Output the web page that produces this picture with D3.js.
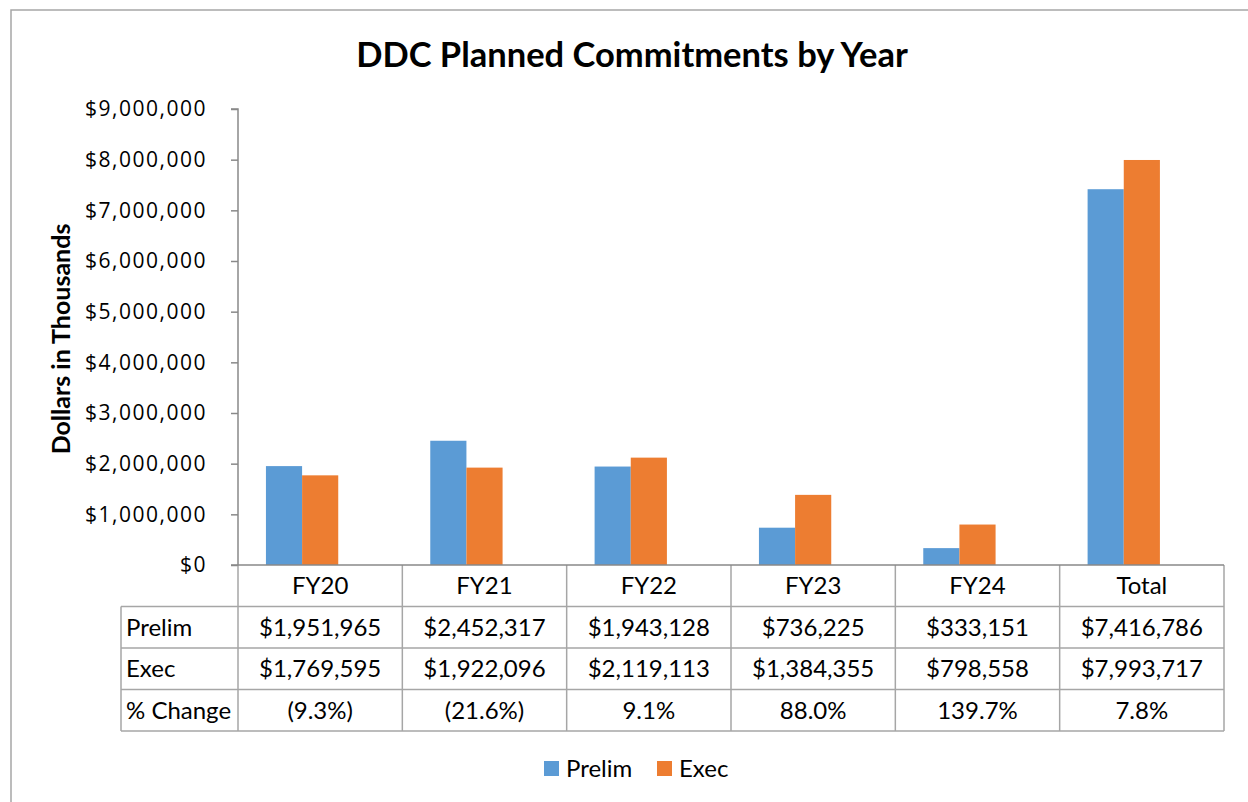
<!DOCTYPE html>
<html lang='en'>
<head>
   <meta charset='UTF-8'>
   <title>DDC Planned Commitments by Year</title>
   <script src='https://d3js.org/d3.v7.min.js'></script>
   <style>
      body { margin: 0; background: #fff; }
      svg { display: block; }
      text { font-family: Lato, 'Open Sans', sans-serif; fill: #000; }
   </style>
</head>
<body>
   <div id='chart'></div>
   <script>
      // data (dollars in thousands)
      const categories = ['FY20', 'FY21', 'FY22', 'FY23', 'FY24', 'Total'];
      const prelim = [1951965, 2452317, 1943128, 736225, 333151, 7416786];
      const exec = [1769595, 1922096, 2119113, 1384355, 798558, 7993717];
      const pctChange = [-9.3, -21.6, 9.1, 88.0, 139.7, 7.8];
      const yTicks = [0, 1000000, 2000000, 3000000, 4000000, 5000000, 6000000, 7000000, 8000000, 9000000];
      const seriesNames = ['Prelim', 'Exec'];
      const colours = ['#5b9bd5', '#ed7d31'];

      const W = 1248, H = 802;
      const plot = { left: 238, right: 1224, top: 109, bottom: 565 };
      const rowH = 41.5;

      const svg = d3.select('#chart').append('svg').attr('width', W).attr('height', H);

      // chart frame
      svg.append('rect').attr('x', 11).attr('y', 10).attr('width', W + 10).attr('height', H + 10)
         .attr('fill', '#fff').attr('stroke', '#a6a6a6').attr('stroke-width', 1.5);

      svg.append('text').attr('x', 632).attr('y', 67).attr('text-anchor', 'middle')
         .style('font-size', '34.5px').style('font-weight', 'bold')
         .text('DDC Planned Commitments by Year');

      const x = d3.scaleBand().domain(categories).range([plot.left, plot.right]).padding(0);
      const y = d3.scaleLinear().domain([0, 9000000]).range([plot.bottom, plot.top]);

      // y axis
      const yAxis = svg.append('g').attr('transform', `translate(${plot.left},0)`)
         .call(d3.axisLeft(y).tickValues(yTicks).tickSize(7).tickPadding(24).tickFormat(d3.format('$,')));
      yAxis.select('.domain').attr('stroke', '#898989').attr('stroke-width', 1.5).attr('d', `M-7,${plot.top}H0V${plot.bottom}`);
      yAxis.selectAll('.tick line').attr('stroke', '#898989').attr('stroke-width', 1.5);
      yAxis.selectAll('.tick text').style('font-family', "'Open Sans', sans-serif").style('font-size', '21px')
         .style('letter-spacing', '1.5px').attr('fill', '#000');

      svg.append('text').attr('transform', `translate(70,${(plot.top + plot.bottom) / 2 + 2}) rotate(-90)`)
         .attr('text-anchor', 'middle').style('font-size', '25px').style('font-weight', 'bold')
         .text('Dollars in Thousands');

      // bars
      const bw = x.bandwidth();
      const barW = bw * 0.22, barOff = bw * 0.17;
      [prelim, exec].forEach((vals, s) => {
         svg.append('g').selectAll('rect').data(vals).join('rect')
            .attr('x', (d, i) => x(categories[i]) + barOff + s * barW)
            .attr('y', d => y(d))
            .attr('width', barW)
            .attr('height', d => y(0) - y(d))
            .attr('fill', colours[s]);
      });

      // data table
      const fmtMoney = d3.format('$,');
      const fmtPct = v => v < 0 ? `(${Math.abs(v).toFixed(1)}%)` : `${v.toFixed(1)}%`;
      const rows = [
         { label: 'Prelim', cells: prelim.map(fmtMoney) },
         { label: 'Exec', cells: exec.map(fmtMoney) },
         { label: '% Change', cells: pctChange.map(fmtPct) }
      ];
      const tableLeft = 121;
      const table = svg.append('g');
      const lineCol = '#a6a6a6';
      const tableBottom = plot.bottom + rowH * 4;

      // horizontal lines
      for (let r = 1; r <= 4; r++) {
         table.append('line').attr('x1', tableLeft).attr('x2', plot.right)
            .attr('y1', plot.bottom + r * rowH).attr('y2', plot.bottom + r * rowH)
            .attr('stroke', lineCol).attr('stroke-width', 1.5);
      }
      // vertical lines
      table.append('line').attr('x1', tableLeft).attr('x2', tableLeft)
         .attr('y1', plot.bottom + rowH).attr('y2', tableBottom).attr('stroke', lineCol).attr('stroke-width', 1.5);
      categories.concat(['end']).forEach((c, i) => {
         const xx = i < categories.length ? x(c) : plot.right;
         table.append('line').attr('x1', xx).attr('x2', xx)
            .attr('y1', plot.bottom).attr('y2', tableBottom).attr('stroke', lineCol).attr('stroke-width', 1.5);
      });

      // x axis line on top of table
      svg.append('line').attr('x1', plot.left - 7).attr('x2', plot.right)
         .attr('y1', plot.bottom).attr('y2', plot.bottom).attr('stroke', '#898989').attr('stroke-width', 1.5);

      const cellFont = '24px';
      table.selectAll('.hdr').data(categories).join('text').attr('class', 'hdr')
         .attr('x', d => x(d) + bw / 2).attr('y', plot.bottom + rowH / 2 + 8.5)
         .attr('text-anchor', 'middle').style('font-size', cellFont).text(d => d);

      rows.forEach((row, r) => {
         const cy = plot.bottom + rowH * (r + 1) + rowH / 2 + 8.5;
         table.append('text').attr('x', tableLeft + 5).attr('y', cy).style('font-size', cellFont).text(row.label);
         table.append('g').selectAll('text').data(row.cells).join('text')
            .attr('x', (d, i) => x(categories[i]) + bw / 2).attr('y', cy)
            .attr('text-anchor', 'middle').style('font-size', cellFont).text(d => d);
      });

      // legend
      const legendX = [544, 657];
      const legend = svg.append('g');
      seriesNames.forEach((n, i) => {
         legend.append('rect').attr('x', legendX[i]).attr('y', 761).attr('width', 15).attr('height', 15).attr('fill', colours[i]);
         legend.append('text').attr('x', legendX[i] + 22).attr('y', 777).style('font-size', '24px').text(n);
      });
   </script>
</body>
</html>
